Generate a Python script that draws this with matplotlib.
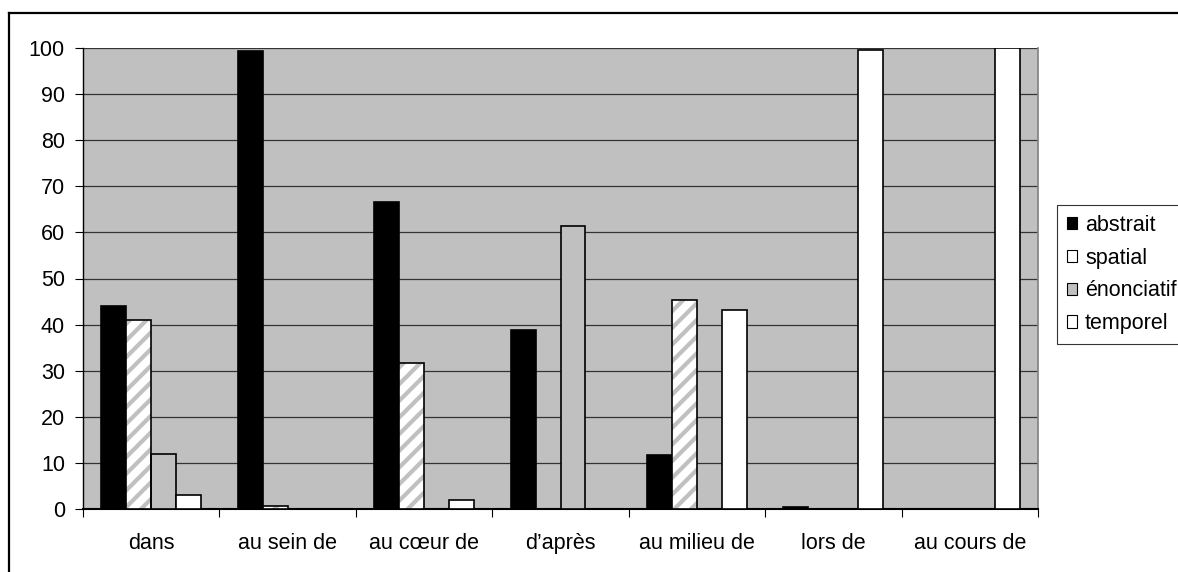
import matplotlib
matplotlib.use("Agg")
import matplotlib.pyplot as plt
import numpy as np
from matplotlib.lines import Line2D
from matplotlib.patches import Patch

plt.rcParams['font.family'] = ['Liberation Sans', 'DejaVu Sans']
plt.rcParams['hatch.linewidth'] = 3.0

categories = ["dans", "au sein de", "au cœur de", "d’après", "au milieu de", "lors de", "au cours de"]
series_names = ["abstrait", "spatial", "énonciatif", "temporel"]
abstrait = [44.0, 99.3, 66.7, 38.8, 11.8, 0.5, 0]
spatial = [40.9, 0.7, 31.6, 0, 45.4, 0, 0]
enonciatif = [12.0, 0, 0, 61.3, 0, 0, 0]
temporel = [3.0, 0, 2.0, 0, 43.2, 99.6, 100]

fig = plt.figure(figsize=(11.78, 5.72), dpi=100)
ax = fig.add_axes([83/1178, 1 - 509/572, (1038 - 83)/1178, (509 - 48)/572])
ax.set_facecolor('#c0c0c0')

x = np.arange(len(categories))
w = 0.183
fills = ['black', 'white', '#c0c0c0', 'white']
data = [abstrait, spatial, enonciatif, temporel]
for i, vals in enumerate(data):
    pos = x + (i - 1.5) * w
    if i == 1:
        # grey stripes first, then the black outline on top
        ax.bar(pos, vals, w, color='white', edgecolor='#c0c0c0', hatch='//', linewidth=0, zorder=3)
        ax.bar(pos, vals, w, fill=False, edgecolor='black', linewidth=1.2, zorder=4)
    else:
        ax.bar(pos, vals, w, color=fills[i], edgecolor='black', linewidth=1.2, zorder=3)

ax.set_xlim(-0.5, len(categories) - 0.5)
ax.set_ylim(0, 100)
ax.set_yticks(range(0, 101, 10))
ax.yaxis.grid(True, color='#333333', linewidth=0.9)
ax.set_axisbelow(True)

fs = 15.5
ax.set_xticks(x)
ax.set_xticklabels(categories, fontsize=fs)
ax.tick_params(axis='x', which='major', length=0, pad=17)
ax.set_xticks(np.arange(-0.5, len(categories)), minor=True)
ax.tick_params(axis='x', which='minor', length=6, width=0.8, direction='out', color='black')
ax.tick_params(axis='y', labelsize=fs, length=6, width=0.8, pad=7)

ax.spines['top'].set_visible(False)
ax.spines['right'].set_color('#808080')
ax.spines['right'].set_linewidth(1.2)
ax.spines['left'].set_linewidth(1.0)
ax.spines['bottom'].set_linewidth(1.5)

# outer frame (cut at right and bottom of the picture)
fig.add_artist(Line2D([9/1178, 1.0], [1 - 12.5/572, 1 - 12.5/572], transform=fig.transFigure, color='black', linewidth=1.6))
fig.add_artist(Line2D([9/1178, 9/1178], [0.0, 1 - 12.5/572], transform=fig.transFigure, color='black', linewidth=1.6))

handles = [
    Patch(facecolor='black', edgecolor='black', linewidth=0.8),
    Patch(facecolor='white', edgecolor='black', linewidth=0.8),
    Patch(facecolor='#c0c0c0', edgecolor='black', linewidth=0.8),
    Patch(facecolor='white', edgecolor='black', linewidth=0.8),
]
leg = fig.legend(handles, series_names, loc='upper left', bbox_to_anchor=(1057/1178, 1 - 205/572),
                 borderaxespad=0, fontsize=fs, frameon=True, fancybox=False,
                 handlelength=0.5, handleheight=0.5, handletextpad=0.35,
                 labelspacing=0.55, borderpad=0.45)
leg.get_frame().set_edgecolor('black')
leg.get_frame().set_linewidth(0.8)
leg.get_frame().set_facecolor('white')

fig.savefig("out.png", dpi=100)
